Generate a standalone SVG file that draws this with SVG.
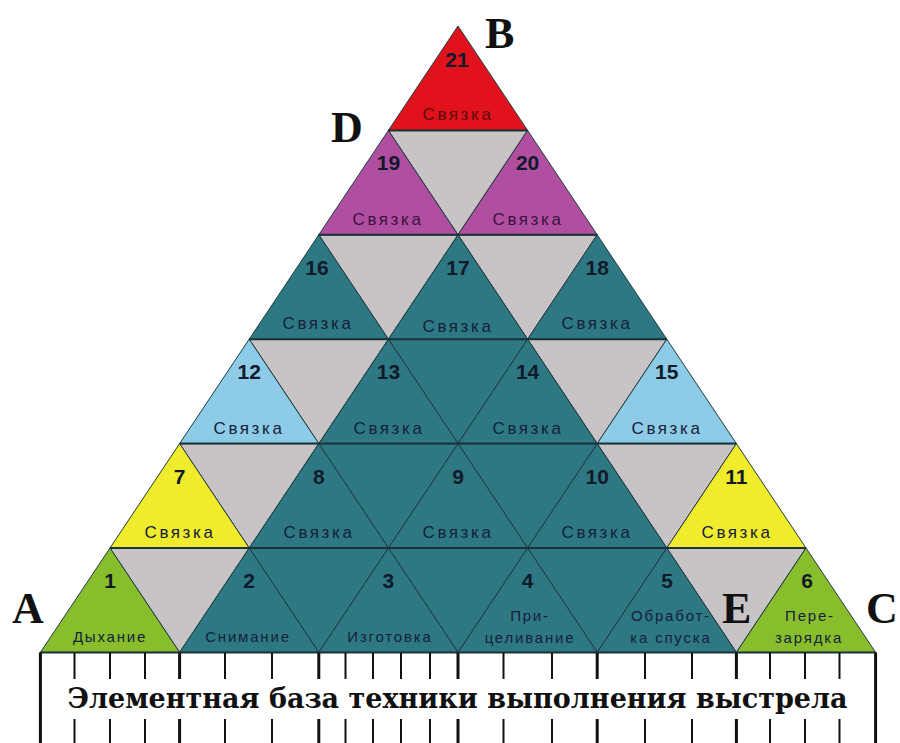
<svg xmlns="http://www.w3.org/2000/svg" width="900" height="743" viewBox="0 0 900 743">
<style>
.tri{stroke:#1d3a3e;stroke-width:1;stroke-linejoin:round}
.teal{fill:#2e7883}
.gray{fill:#c8c4c5}
.green{fill:#88bd2b}
.yellow{fill:#f0ec2c}
.blue{fill:#8ecbe6}
.purple{fill:#b04ea0}
.red{fill:#e2121c}
.num{font-family:"Liberation Sans",Arial,sans-serif;font-weight:bold;font-size:21px;fill:#111a2a;text-anchor:middle}
.lbl{font-family:"Liberation Sans",Arial,sans-serif;font-size:17px;letter-spacing:2.6px;fill:#15213a;text-anchor:middle}
.sm{font-size:15px;letter-spacing:1.8px}
.onred{fill:#5a0a12}
.onpur{fill:#3a1240}
.big{font-family:"Liberation Serif","Times New Roman",serif;font-weight:bold;font-size:44px;fill:#111}
.row{stroke:#1a3338;stroke-width:2}
.thick{stroke:#111;stroke-width:3}
.thin{stroke:#111;stroke-width:2}
.title{font-family:"DejaVu Serif","Liberation Serif",serif;font-weight:bold;font-size:27px;fill:#111;text-anchor:middle}
</style>
<rect width="900" height="743" fill="#fff"/>

<g id="gaps">
<polygon class="tri gray" points="110,548 249.2,548 179.6,652.4"/>
<polygon class="tri teal" points="249.2,548 388.4,548 318.8,652.4"/>
<polygon class="tri teal" points="388.4,548 527.6,548 458,652.4"/>
<polygon class="tri teal" points="527.6,548 666.8,548 597.2,652.4"/>
<polygon class="tri gray" points="666.8,548 806,548 736.4,652.4"/>
<polygon class="tri gray" points="179.6,443.6 318.8,443.6 249.2,548"/>
<polygon class="tri teal" points="318.8,443.6 458,443.6 388.4,548"/>
<polygon class="tri teal" points="458,443.6 597.2,443.6 527.6,548"/>
<polygon class="tri gray" points="597.2,443.6 736.4,443.6 666.8,548"/>
<polygon class="tri gray" points="249.2,339.2 388.4,339.2 318.8,443.6"/>
<polygon class="tri teal" points="388.4,339.2 527.6,339.2 458,443.6"/>
<polygon class="tri gray" points="527.6,339.2 666.8,339.2 597.2,443.6"/>
<polygon class="tri gray" points="318.8,234.8 458,234.8 388.4,339.2"/>
<polygon class="tri gray" points="458,234.8 597.2,234.8 527.6,339.2"/>
<polygon class="tri gray" points="388.4,130.4 527.6,130.4 458,234.8"/>
</g>

<g id="t1"><polygon class="tri green" points="110,548 40.4,652.4 179.6,652.4"/><text class="num" x="110" y="588">1</text><text class="lbl sm" x="110" y="642">Дыхание</text></g>
<g id="t2"><polygon class="tri teal" points="249.2,548 179.6,652.4 318.8,652.4"/><text class="num" x="249.2" y="588">2</text><text class="lbl sm" x="248" y="642">Снимание</text></g>
<g id="t3"><polygon class="tri teal" points="388.4,548 318.8,652.4 458,652.4"/><text class="num" x="388.4" y="588">3</text><text class="lbl sm" x="390" y="642">Изготовка</text></g>
<g id="t4"><polygon class="tri teal" points="527.6,548 458,652.4 597.2,652.4"/><text class="num" x="527.6" y="588">4</text><text class="lbl sm" x="530" y="621">При-</text><text class="lbl sm" x="530" y="643">целивание</text></g>
<g id="t5"><polygon class="tri teal" points="666.8,548 597.2,652.4 736.4,652.4"/><text class="num" x="667" y="588">5</text><text class="lbl sm" x="671" y="621">Обработ-</text><text class="lbl sm" x="671" y="643">ка спуска</text></g>
<g id="t6"><polygon class="tri green" points="806,548 736.4,652.4 875.6,652.4"/><text class="num" x="807" y="588">6</text><text class="lbl sm" x="810" y="621">Пере-</text><text class="lbl sm" x="809" y="643">зарядка</text></g>

<g id="t7"><polygon class="tri yellow" points="179.6,443.6 110,548 249.2,548"/><text class="num" x="179.6" y="483.6">7</text><text class="lbl" x="180" y="538">Связка</text></g>
<g id="t8"><polygon class="tri teal" points="318.8,443.6 249.2,548 388.4,548"/><text class="num" x="318.8" y="483.6">8</text><text class="lbl" x="319" y="538">Связка</text></g>
<g id="t9"><polygon class="tri teal" points="458,443.6 388.4,548 527.6,548"/><text class="num" x="458" y="483.6">9</text><text class="lbl" x="458" y="538">Связка</text></g>
<g id="t10"><polygon class="tri teal" points="597.2,443.6 527.6,548 666.8,548"/><text class="num" x="597.2" y="483.6">10</text><text class="lbl" x="597" y="538">Связка</text></g>
<g id="t11"><polygon class="tri yellow" points="736.4,443.6 666.8,548 806,548"/><text class="num" x="736.4" y="483.6">11</text><text class="lbl" x="737" y="538">Связка</text></g>

<g id="t12"><polygon class="tri blue" points="249.2,339.2 179.6,443.6 318.8,443.6"/><text class="num" x="249.2" y="379.2">12</text><text class="lbl" x="249" y="433.6">Связка</text></g>
<g id="t13"><polygon class="tri teal" points="388.4,339.2 318.8,443.6 458,443.6"/><text class="num" x="388.4" y="379.2">13</text><text class="lbl" x="389" y="433.6">Связка</text></g>
<g id="t14"><polygon class="tri teal" points="527.6,339.2 458,443.6 597.2,443.6"/><text class="num" x="527.6" y="379.2">14</text><text class="lbl" x="528" y="433.6">Связка</text></g>
<g id="t15"><polygon class="tri blue" points="666.8,339.2 597.2,443.6 736.4,443.6"/><text class="num" x="666.8" y="379.2">15</text><text class="lbl" x="667" y="433.6">Связка</text></g>

<g id="t16"><polygon class="tri teal" points="318.8,234.8 249.2,339.2 388.4,339.2"/><text class="num" x="317" y="274.8">16</text><text class="lbl" x="318" y="329.2">Связка</text></g>
<g id="t17"><polygon class="tri teal" points="458,234.8 388.4,339.2 527.6,339.2"/><text class="num" x="458" y="274.8">17</text><text class="lbl" x="458" y="332">Связка</text></g>
<g id="t18"><polygon class="tri teal" points="597.2,234.8 527.6,339.2 666.8,339.2"/><text class="num" x="597.2" y="274.8">18</text><text class="lbl" x="597" y="329.2">Связка</text></g>

<g id="t19"><polygon class="tri purple" points="388.4,130.4 318.8,234.8 458,234.8"/><text class="num" x="388.4" y="170.4">19</text><text class="lbl onpur" x="388" y="224.8">Связка</text></g>
<g id="t20"><polygon class="tri purple" points="527.6,130.4 458,234.8 597.2,234.8"/><text class="num" x="527.6" y="170.4">20</text><text class="lbl onpur" x="528" y="224.8">Связка</text></g>

<g id="t21"><polygon class="tri red" points="458,26 388.4,130.4 527.6,130.4"/><text class="num" x="457" y="67">21</text><text class="lbl onred" x="458" y="120.4">Связка</text></g>

<g id="connectors">
<g id="rows">
<line class="row" x1="388.4" y1="130.4" x2="527.6" y2="130.4"/>
<line class="row" x1="318.8" y1="234.8" x2="597.2" y2="234.8"/>
<line class="row" x1="249.2" y1="339.2" x2="666.8" y2="339.2"/>
<line class="row" x1="179.6" y1="443.6" x2="736.4" y2="443.6"/>
<line class="row" x1="110" y1="548" x2="806" y2="548"/>
<line class="row" x1="40.4" y1="652.4" x2="875.6" y2="652.4"/>
</g>
<g id="table">
<line class="thick" x1="40.4" y1="652.4" x2="40.4" y2="743"/>
<line class="thick" x1="875.6" y1="652.4" x2="875.6" y2="743"/>
<path class="thick" d="M179.6,653V679M179.6,719V743M318.8,653V679M318.8,719V743M458,653V679M458,719V743M597.2,653V679M597.2,719V743M736.4,653V679M736.4,719V743"/>
<path class="thin" d="M74.5,653V679M74.5,719V743M110,653V679M110,719V743M145,653V679M145,719V743M225,653V679M225,719V743M272,653V679M272,719V743M345.5,653V679M345.5,719V743M373,653V679M373,719V743M401,653V679M401,719V743M430,653V679M430,719V743M503.5,653V679M503.5,719V743M552,653V679M552,719V743M645,653V679M645,719V743M692,653V679M692,719V743M770,653V679M770,719V743M805,653V679M805,719V743M839.5,653V679M839.5,719V743"/>
</g>
</g>

<g id="letters">
<text class="big" x="485" y="48">B</text>
<text class="big" x="331" y="142">D</text>
<text class="big" x="12" y="623">A</text>
<text class="big" x="722" y="623">E</text>
<text class="big" x="866" y="623">C</text>
</g>

<text class="title" x="457.5" y="708">Элементная база техники выполнения выстрела</text>
</svg>
